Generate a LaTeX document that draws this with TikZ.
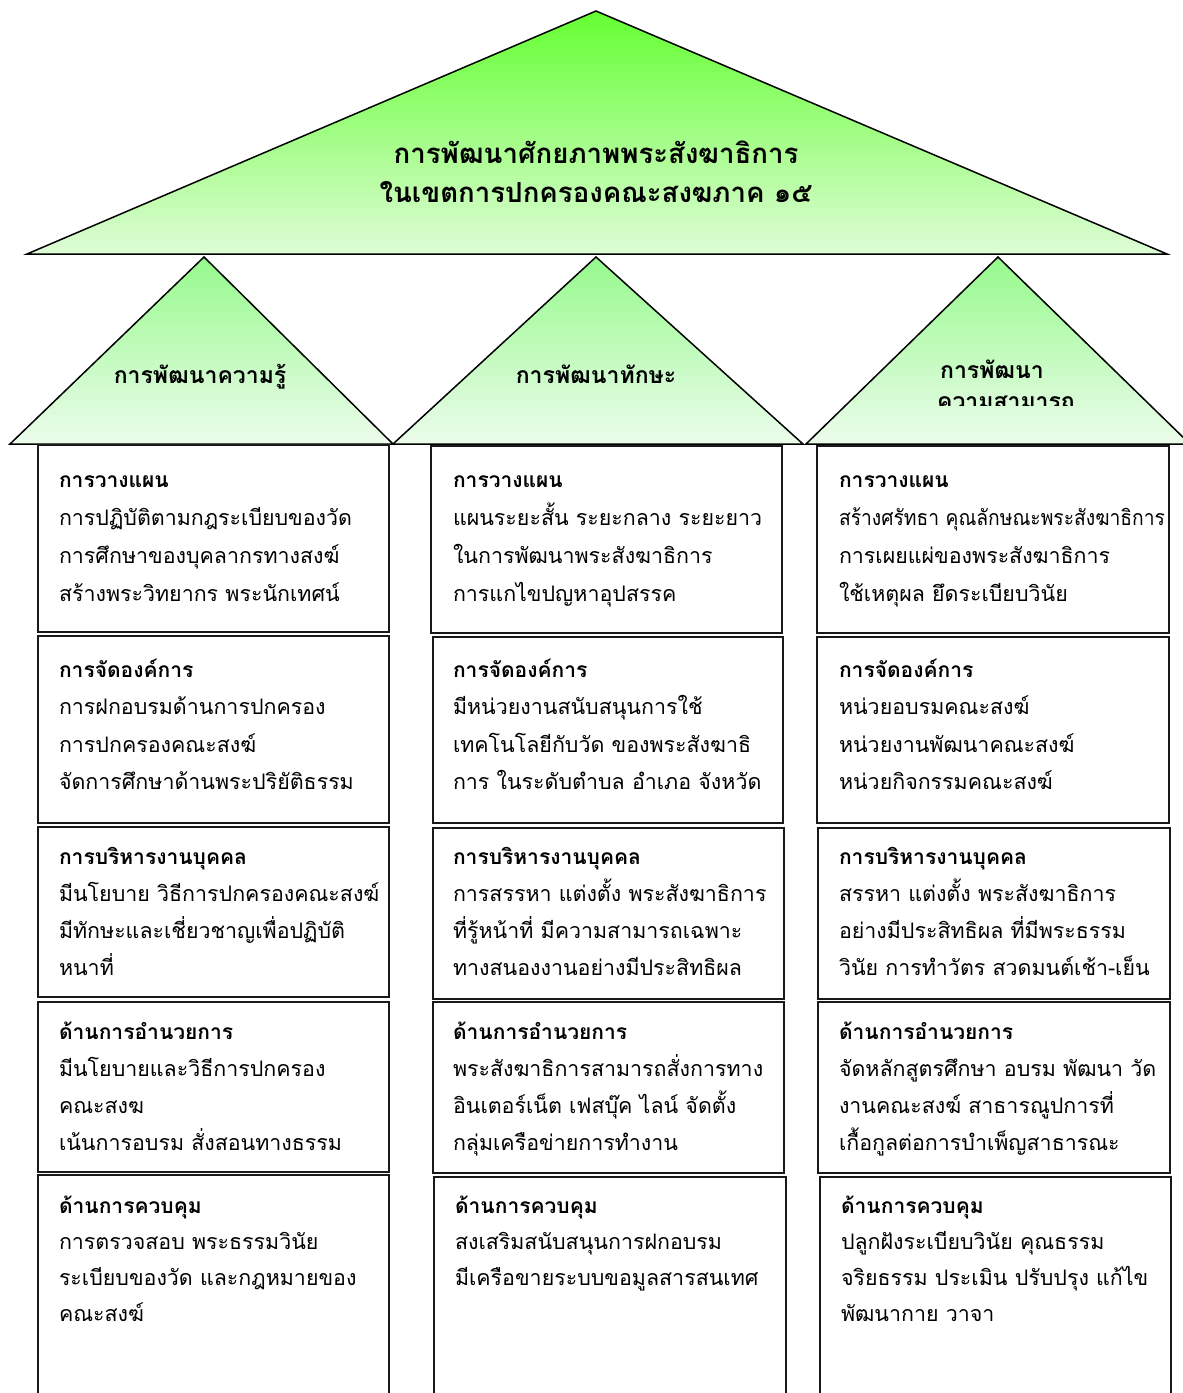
\documentclass[tikz,border=0pt]{standalone}
\usepackage{fontspec}
\setmainfont[Script=Thai]{Loma}
\newcommand\bodyfont{\fontsize{21.4}{37}\selectfont}
\newcommand\headfont{\fontsize{21}{37}\selectfont\bfseries}
\newcommand\titlefont{\fontsize{27.6}{38}\selectfont\bfseries}
\newcommand\labelfont{\fontsize{23}{30}\selectfont\bfseries}
\newcommand\tline[1]{\hbox{#1}}
\newcommand\thead[1]{\hbox{\headfont #1}}
% one text block: name, x, heading baseline, line step, lines
\newcommand\celltext[5]{%
  \node[celltxt] (#1) at (#2,#3)
    {\vtop{\bodyfont\baselineskip=#4pt\lineskiplimit=-1000pt\lineskip=0pt #5}};}
\definecolor{apexgreen}{RGB}{100,255,50}
\definecolor{basegreen}{RGB}{222,252,214}
\definecolor{subtop}{RGB}{150,250,140}
\definecolor{subbase}{RGB}{236,252,236}
\begin{document}
\begin{tikzpicture}[x=1pt,y=-1pt,
  tri/.style={draw=black,line width=1.5pt,line join=miter},
  bigtri/.style={tri,top color=apexgreen,bottom color=basegreen},
  subtri/.style={tri,top color=subtop,bottom color=subbase},
  cell/.style={draw=black!90,line width=2pt},
  celltxt/.style={anchor=base west,inner sep=0pt,outer sep=0pt},
  ttl/.style={anchor=base,inner sep=0pt,font=\titlefont},
  lbl/.style={anchor=base,inner sep=0pt,font=\labelfont}]
\useasboundingbox (0,0) rectangle (1183,1393);
\clip (0,0) rectangle (1183,1393);

% roof and the three gables
\path[bigtri] (596,11) -- (1167,254) -- (27,254) -- cycle;
\path[subtri] (204,257) -- (393,444) -- (10,444) -- cycle;
\path[subtri] (596,257) -- (803,444) -- (393,444) -- cycle;
\path[subtri] (998,257) -- (1190,444) -- (806,444) -- cycle;

\node[ttl] (title1) at (596,163) {การพัฒนาศักยภาพพระสังฆาธิการ};
\node[ttl] (title2) at (596,202) {ในเขตการปกครองคณะสงฆภาค ๑๕};

\node[lbl] (knowledge) at (200,383) {การพัฒนาความรู้};
\node[lbl] (skill) at (596,383) {การพัฒนาทักษะ};
\node[lbl] (ability) at (992,378) {การพัฒนา};
% the second line of this label is cut off by its text frame
\begin{scope}
  \clip (900,380) rectangle (1120,405);
  \node[lbl] (ability2) at (1006,409.5) {ความสามารถ};
\end{scope}

% column frames
\draw[cell] (38,445) rectangle (389,632);
\draw[cell] (38,636) rectangle (389,823);
\draw[cell] (38,827) rectangle (389,997);
\draw[cell] (38,1002) rectangle (389,1172);
\draw[cell] (38,1175) rectangle (389,1420);

\draw[cell] (431,446) rectangle (782,633);
\draw[cell] (433,637) rectangle (783,823);
\draw[cell] (433,828) rectangle (784,999);
\draw[cell] (433,1002) rectangle (784,1173);
\draw[cell] (434,1177) rectangle (786,1420);

\draw[cell] (817,446) rectangle (1169,633);
\draw[cell] (817,637) rectangle (1169,823);
\draw[cell] (818,828) rectangle (1170,999);
\draw[cell] (818,1002) rectangle (1170,1173);
\draw[cell] (820,1177) rectangle (1171,1420);

% first column
\celltext{a1}{59}{487}{38}{\thead{การวางแผน}\tline{การปฏิบัติตามกฎระเบียบของวัด}\tline{การศึกษาของบุคลากรทางสงฆ์}\tline{สร้างพระวิทยากร พระนักเทศน์}}
\celltext{a2}{59}{677}{37.5}{\thead{การจัดองค์การ}\tline{การฝกอบรมด้านการปกครอง}\tline{การปกครองคณะสงฆ์}\tline{จัดการศึกษาด้านพระปริยัติธรรม}}
\celltext{a3}{59}{864}{37}{\thead{การบริหารงานบุคคล}\tline{มีนโยบาย วิธีการปกครองคณะสงฆ์}\tline{มีทักษะและเชี่ยวชาญเพื่อปฏิบัติ}\tline{หนาที่}}
\celltext{a4}{59}{1039}{37}{\thead{ด้านการอำนวยการ}\tline{มีนโยบายและวิธีการปกครอง}\tline{คณะสงฆ}\tline{เน้นการอบรม สั่งสอนทางธรรม}}
\celltext{a5}{59}{1213}{36}{\thead{ด้านการควบคุม}\tline{การตรวจสอบ พระธรรมวินัย}\tline{ระเบียบของวัด และกฎหมายของ}\tline{คณะสงฆ์}}

% second column
\celltext{b1}{453}{487}{38}{\thead{การวางแผน}\tline{แผนระยะสั้น ระยะกลาง ระยะยาว}\tline{ในการพัฒนาพระสังฆาธิการ}\tline{การแกไขปญหาอุปสรรค}}
\celltext{b2}{453}{677}{37.5}{\thead{การจัดองค์การ}\tline{มีหน่วยงานสนับสนุนการใช้}\tline{เทคโนโลยีกับวัด ของพระสังฆาธิ}\tline{การ ในระดับตำบล อำเภอ จังหวัด}}
\celltext{b3}{453}{864}{37}{\thead{การบริหารงานบุคคล}\tline{การสรรหา แต่งตั้ง พระสังฆาธิการ}\tline{ที่รู้หน้าที่ มีความสามารถเฉพาะ}\tline{ทางสนองงานอย่างมีประสิทธิผล}}
\celltext{b4}{453}{1039}{37}{\thead{ด้านการอำนวยการ}\tline{พระสังฆาธิการสามารถสั่งการทาง}\tline{อินเตอร์เน็ต เฟสบุ๊ค ไลน์ จัดตั้ง}\tline{กลุ่มเครือข่ายการทำงาน}}
\celltext{b5}{455}{1213}{36}{\thead{ด้านการควบคุม}\tline{สงเสริมสนับสนุนการฝกอบรม}\tline{มีเครือขายระบบขอมูลสารสนเทศ}}

% third column
\celltext{c1}{839}{487}{38}{\thead{การวางแผน}\tline{\scalebox{0.9}[1]{สร้างศรัทธา คุณลักษณะพระสังฆาธิการ}}\tline{การเผยแผ่ของพระสังฆาธิการ}\tline{ใช้เหตุผล ยึดระเบียบวินัย}}
\celltext{c2}{839}{677}{37.5}{\thead{การจัดองค์การ}\tline{หน่วยอบรมคณะสงฆ์}\tline{หน่วยงานพัฒนาคณะสงฆ์}\tline{หน่วยกิจกรรมคณะสงฆ์}}
\celltext{c3}{839}{864}{37}{\thead{การบริหารงานบุคคล}\tline{สรรหา แต่งตั้ง พระสังฆาธิการ}\tline{อย่างมีประสิทธิผล ที่มีพระธรรม}\tline{วินัย การทำวัตร สวดมนต์เช้า-เย็น}}
\celltext{c4}{839}{1039}{37}{\thead{ด้านการอำนวยการ}\tline{จัดหลักสูตรศึกษา อบรม พัฒนา วัด}\tline{งานคณะสงฆ์ สาธารณูปการที่}\tline{เกื้อกูลต่อการบำเพ็ญสาธารณะ}}
\celltext{c5}{841}{1213}{36}{\thead{ด้านการควบคุม}\tline{ปลูกฝังระเบียบวินัย คุณธรรม}\tline{จริยธรรม ประเมิน ปรับปรุง แก้ไข}\tline{พัฒนากาย วาจา}}
\end{tikzpicture}
\end{document}
